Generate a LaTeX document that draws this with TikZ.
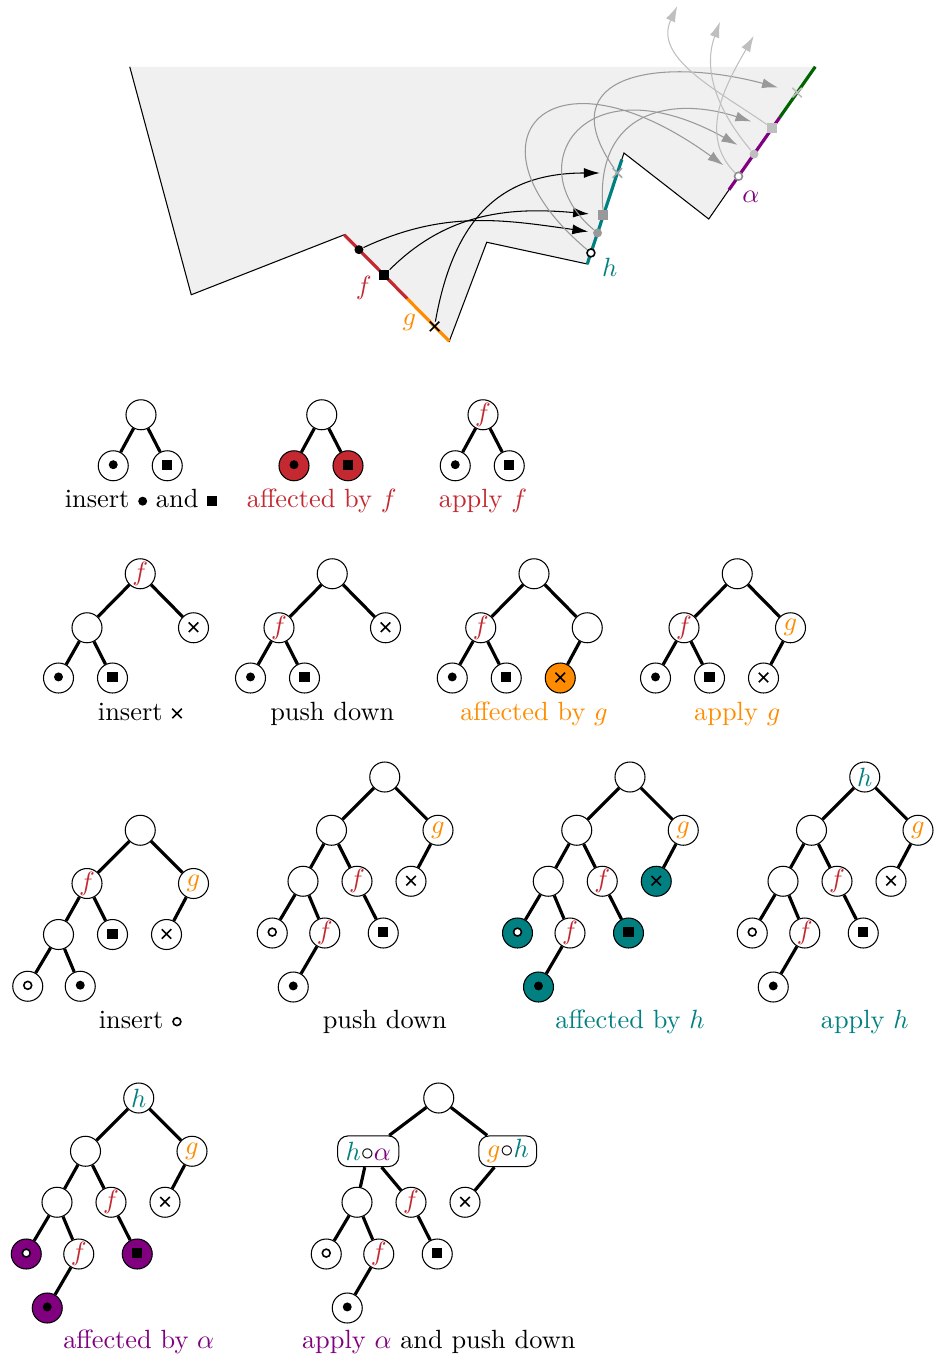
\documentclass[tikz,border=0pt]{standalone}
\usepackage{amssymb,amsmath}
\usepackage{xcolor}
\usepackage{tikz}
\usetikzlibrary{positioning}
\usetikzlibrary{arrows.meta,shapes.misc}
\usetikzlibrary{calc}

\definecolor{cf}{RGB}{196,40,48}
\definecolor{cg}{RGB}{255,140,0}
\definecolor{ch}{RGB}{0,128,128}
\definecolor{ca}{RGB}{128,0,128}
\definecolor{cz}{RGB}{0,100,0}

\tikzset{
  tn/.style={circle, draw=black, thin, fill=white, minimum size=0.4cm, inner sep=0pt},
  tbox/.style={rectangle, rounded corners=1.4mm, draw=black, thin, fill=white, minimum height=0.41cm, inner xsep=3pt, inner ysep=0pt},
  te/.style={very thick},
  mdot/.style={circle, fill=black, inner sep=0pt, minimum size=3.4pt},
  msq/.style={rectangle, fill=black, inner sep=0pt, minimum size=3.8pt},
  mring/.style={circle, draw=black, fill=white, line width=0.6pt, inner sep=0pt, minimum size=3pt},
  mcross/.style={cross out, draw=black, line width=0.6pt, inner sep=0pt, minimum size=3pt},
  arr/.style={-{Latex[length=6pt,width=3.8pt]}},
  seg/.style={line width=1.2pt},
}

\newcommand{\mkdot}{\tikz[baseline=-2.5pt]\node[mdot]{};}
\newcommand{\mksq}{\tikz[baseline=-2.5pt]\node[msq]{};}
\newcommand{\mkring}{\tikz[baseline=-2.5pt]\node[mring]{};}
\newcommand{\mkcross}{\tikz[baseline=-2.5pt]\node[mcross]{};}

\begin{document}
\begin{tikzpicture}
 \useasboundingbox (0,0) rectangle (12.467,-18.12);

 %region
 \coordinate (p1) at (1.73,-0.89);
 \coordinate (p2) at (2.55,-3.93);
 \coordinate (p3) at (4.59,-3.13);
 \coordinate (p4) at (5.99,-4.55);
 \coordinate (p5) at (6.49,-3.23);
 \coordinate (p6) at (7.83,-3.52);
 \coordinate (p7) at (8.32,-2.04);
 \coordinate (p8) at (9.45,-2.92);
 \coordinate (p9) at (9.72,-2.53);
 \coordinate (p10) at (10.87,-0.89);
 \fill[black!6] (p1) -- (p2) -- (p3) -- (p4) -- (p5) -- (p6) -- (p7) -- (p8) -- (p9) -- (p10) -- cycle;
 \draw[thin] (p1) -- (p2) -- (p3) -- (p4) -- (p5) -- (p6) -- (p7) -- (p8) -- (p9) -- (p10);

 %coloured pieces
 \coordinate (q1) at ($(p3)!0.6!(p4)$);
 \coordinate (q2) at ($(p6)!0.94!(p7)$);
 \coordinate (q3) at ($(p9)!0.59!(p10)$);
 \draw[seg, cf] (p3) -- (q1);
 \draw[seg, cg] (q1) -- (p4);
 \draw[seg, ch] (p6) -- (q2);
 \draw[seg, ca] (p9) -- (q3);
 \draw[seg, cz] (q3) -- (p10);

 %points
 \node[mdot] (c1) at ($(p3)!0.14!(p4)$) {};
 \node[msq] (s1) at ($(p3)!0.38!(p4)$) {};
 \node[mcross] (x1) at ($(p3)!0.86!(p4)$) {};
 \node[mring] (r2) at ($(p6)!0.1!(p7)$) {};
 \node[mdot, fill=black!40] (d2) at ($(p6)!0.28!(p7)$) {};
 \node[msq, fill=black!40] (s2) at ($(p6)!0.44!(p7)$) {};
 \node[mcross, draw=black!35] (x2) at ($(p6)!0.82!(p7)$) {};
 \node[mring, draw=black!45] (r3) at ($(p9)!0.11!(p10)$) {};
 \node[mdot, fill=black!25] (d3) at ($(p9)!0.29!(p10)$) {};
 \node[msq, fill=black!25] (s3) at ($(p9)!0.5!(p10)$) {};
 \node[mcross, draw=black!25] (x3) at ($(p9)!0.79!(p10)$) {};

 %names
 \node[cf] (nf) at (4.85,-3.84) {$f$};
 \node[cg] (ng) at (5.46,-4.3) {$g$};
 \node[ch] (nh) at (8.13,-3.56) {$h$};
 \node[ca] (na) at (10.01,-2.63) {$\alpha$};

 %arrows
 \draw[arr, shorten >=1.7pt] (c1) to[out=25, in=172] (d2);
 \draw[arr, shorten >=3.4pt] (s1) to[out=45, in=175] (s2);
 \draw[arr, shorten >=4.9pt] (x1) to[out=80, in=180, looseness=1.2] (x2);

 \draw[arr, black!40, shorten >=5.3pt] (r2) to[out=140, in=144, out distance=2.27cm, in distance=3.07cm] (r3);
 \draw[arr, black!40, shorten >=5.3pt] (d2) to[out=140, in=151, out distance=1.33cm, in distance=2.53cm] (d3);
 \draw[arr, black!40, shorten >=6.1pt] (s2) to[out=95, in=162, out distance=1.33cm, in distance=1.33cm] (s3);
 \draw[arr, black!40, shorten >=5.7pt] (x2) to[out=125, in=165, out distance=1.55cm, in distance=1.8cm] (x3);

 \coordinate (t1) at (9.03,-0.08);
 \coordinate (t2) at (9.6,-0.29);
 \coordinate (t3) at (10.05,-0.48);
 \draw[arr, black!25] (s3) to[out=145, in=-115] (t1);
 \draw[arr, black!25] (d3) to[out=130, in=-110] (t2);
 \draw[arr, black!25] (r3) to[out=135, in=-120] (t3);

 %row 1
 \begin{scope}[shift={(1.88,-5.53)}]
  \node[tn] (a1) at (0,0) {};
  \node[tn] (a21) at (-0.37,-0.68) {\mkdot};
  \node[tn] (a22) at (0.35,-0.68) {\mksq};
  \draw[te] (a1) -- (a21) (a1) -- (a22);
  \node[anchor=base] (a0) at (0,-1.24) {insert \mkdot\ and \mksq};
 \end{scope}

 \begin{scope}[shift={(4.29,-5.53)}]
  \node[tn] (b1) at (0,0) {};
  \node[tn, fill=cf] (b21) at (-0.37,-0.68) {\mkdot};
  \node[tn, fill=cf] (b22) at (0.35,-0.68) {\mksq};
  \draw[te] (b1) -- (b21) (b1) -- (b22);
  \node[anchor=base, cf] (b0) at (0,-1.24) {affected by $f$};
 \end{scope}

 \begin{scope}[shift={(6.44,-5.53)}]
  \node[tn, text=cf] (c1) at (0,0) {$f$};
  \node[tn] (c21) at (-0.37,-0.68) {\mkdot};
  \node[tn] (c22) at (0.35,-0.68) {\mksq};
  \draw[te] (c1) -- (c21) (c1) -- (c22);
  \node[anchor=base, cf] (c0) at (0,-1.24) {apply $f$};
 \end{scope}

 %row 2
 \begin{scope}[shift={(1.87,-7.65)}]
  \node[tn, text=cf] (d1) at (0,0) {$f$};
  \node[tn] (d21) at (-0.71,-0.72) {};
  \node[tn] (d22) at (0.71,-0.72) {\mkcross};
  \node[tn] (d31) at (-1.09,-1.39) {\mkdot};
  \node[tn] (d32) at (-0.37,-1.39) {\mksq};
  \draw[te] (d1) -- (d21) (d1) -- (d22) (d21) -- (d31) (d21) -- (d32);
  \node[anchor=base] (d0) at (0,-1.95) {insert \mkcross};
 \end{scope}

 \begin{scope}[shift={(4.43,-7.65)}]
  \node[tn] (e1) at (0,0) {};
  \node[tn, text=cf] (e21) at (-0.71,-0.72) {$f$};
  \node[tn] (e22) at (0.71,-0.72) {\mkcross};
  \node[tn] (e31) at (-1.09,-1.39) {\mkdot};
  \node[tn] (e32) at (-0.37,-1.39) {\mksq};
  \draw[te] (e1) -- (e21) (e1) -- (e22) (e21) -- (e31) (e21) -- (e32);
  \node[anchor=base] (e0) at (0,-1.95) {push down};
 \end{scope}

 \begin{scope}[shift={(7.12,-7.65)}]
  \node[tn] (f1) at (0,0) {};
  \node[tn, text=cf] (f21) at (-0.71,-0.72) {$f$};
  \node[tn] (f22) at (0.71,-0.72) {};
  \node[tn] (f31) at (-1.09,-1.39) {\mkdot};
  \node[tn] (f32) at (-0.37,-1.39) {\mksq};
  \node[tn, fill=cg] (f33) at (0.35,-1.39) {\mkcross};
  \draw[te] (f1) -- (f21) (f1) -- (f22) (f21) -- (f31) (f21) -- (f32) (f22) -- (f33);
  \node[anchor=base, cg] (f0) at (0,-1.95) {affected by $g$};
 \end{scope}

 \begin{scope}[shift={(9.83,-7.65)}]
  \node[tn] (g1) at (0,0) {};
  \node[tn, text=cf] (g21) at (-0.71,-0.72) {$f$};
  \node[tn, text=cg] (g22) at (0.71,-0.72) {$g$};
  \node[tn] (g31) at (-1.09,-1.39) {\mkdot};
  \node[tn] (g32) at (-0.37,-1.39) {\mksq};
  \node[tn] (g33) at (0.35,-1.39) {\mkcross};
  \draw[te] (g1) -- (g21) (g1) -- (g22) (g21) -- (g31) (g21) -- (g32) (g22) -- (g33);
  \node[anchor=base, cg] (g0) at (0,-1.95) {apply $g$};
 \end{scope}

 %row 3
 \begin{scope}[shift={(1.87,-11.07)}]
  \node[tn] (h1) at (0,0) {};
  \node[tn, text=cf] (h21) at (-0.71,-0.71) {$f$};
  \node[tn, text=cg] (h22) at (0.71,-0.71) {$g$};
  \node[tn] (h31) at (-1.09,-1.39) {};
  \node[tn] (h32) at (-0.37,-1.39) {\mksq};
  \node[tn] (h33) at (0.35,-1.39) {\mkcross};
  \node[tn] (h41) at (-1.5,-2.08) {\mkring};
  \node[tn] (h42) at (-0.8,-2.08) {\mkdot};
  \draw[te] (h1) -- (h21) (h1) -- (h22) (h21) -- (h31) (h21) -- (h32) (h22) -- (h33);
  \draw[te] (h31) -- (h41) (h31) -- (h42);
  \node[anchor=base] (h0) at (0,-2.64) {insert \mkring};
 \end{scope}

 \begin{scope}[shift={(5.13,-10.36)}]
  \node[tn] (i1) at (0,0) {};
  \node[tn] (i21) at (-0.71,-0.71) {};
  \node[tn, text=cg] (i22) at (0.71,-0.71) {$g$};
  \node[tn] (i31) at (-1.09,-1.39) {};
  \node[tn, text=cf] (i32) at (-0.37,-1.39) {$f$};
  \node[tn] (i33) at (0.35,-1.39) {\mkcross};
  \node[tn] (i41) at (-1.5,-2.08) {\mkring};
  \node[tn, text=cf] (i42) at (-0.8,-2.08) {$f$};
  \node[tn] (i43) at (-0.02,-2.08) {\mksq};
  \node[tn] (i51) at (-1.22,-2.8) {\mkdot};
  \draw[te] (i1) -- (i21) (i1) -- (i22) (i21) -- (i31) (i21) -- (i32) (i22) -- (i33);
  \draw[te] (i31) -- (i41) (i31) -- (i42) (i32) -- (i43) (i42) -- (i51);
  \node[anchor=base] (i0) at (0,-3.35) {push down};
 \end{scope}

 \begin{scope}[shift={(8.4,-10.36)}]
  \node[tn] (j1) at (0,0) {};
  \node[tn] (j21) at (-0.71,-0.71) {};
  \node[tn, text=cg] (j22) at (0.71,-0.71) {$g$};
  \node[tn] (j31) at (-1.09,-1.39) {};
  \node[tn, text=cf] (j32) at (-0.37,-1.39) {$f$};
  \node[tn, fill=ch] (j33) at (0.35,-1.39) {\mkcross};
  \node[tn, fill=ch] (j41) at (-1.5,-2.08) {\mkring};
  \node[tn, text=cf] (j42) at (-0.8,-2.08) {$f$};
  \node[tn, fill=ch] (j43) at (-0.02,-2.08) {\mksq};
  \node[tn, fill=ch] (j51) at (-1.22,-2.8) {\mkdot};
  \draw[te] (j1) -- (j21) (j1) -- (j22) (j21) -- (j31) (j21) -- (j32) (j22) -- (j33);
  \draw[te] (j31) -- (j41) (j31) -- (j42) (j32) -- (j43) (j42) -- (j51);
  \node[anchor=base, ch] (j0) at (0,-3.35) {affected by $h$};
 \end{scope}

 \begin{scope}[shift={(11.53,-10.36)}]
  \node[tn, text=ch] (k1) at (0,0) {$h$};
  \node[tn] (k21) at (-0.71,-0.71) {};
  \node[tn, text=cg] (k22) at (0.71,-0.71) {$g$};
  \node[tn] (k31) at (-1.09,-1.39) {};
  \node[tn, text=cf] (k32) at (-0.37,-1.39) {$f$};
  \node[tn] (k33) at (0.35,-1.39) {\mkcross};
  \node[tn] (k41) at (-1.5,-2.08) {\mkring};
  \node[tn, text=cf] (k42) at (-0.8,-2.08) {$f$};
  \node[tn] (k43) at (-0.02,-2.08) {\mksq};
  \node[tn] (k51) at (-1.22,-2.8) {\mkdot};
  \draw[te] (k1) -- (k21) (k1) -- (k22) (k21) -- (k31) (k21) -- (k32) (k22) -- (k33);
  \draw[te] (k31) -- (k41) (k31) -- (k42) (k32) -- (k43) (k42) -- (k51);
  \node[anchor=base, ch] (k0) at (0,-3.35) {apply $h$};
 \end{scope}

 %row 4
 \begin{scope}[shift={(1.85,-14.64)}]
  \node[tn, text=ch] (l1) at (0,0) {$h$};
  \node[tn] (l21) at (-0.71,-0.71) {};
  \node[tn, text=cg] (l22) at (0.71,-0.71) {$g$};
  \node[tn] (l31) at (-1.09,-1.39) {};
  \node[tn, text=cf] (l32) at (-0.37,-1.39) {$f$};
  \node[tn] (l33) at (0.35,-1.39) {\mkcross};
  \node[tn, fill=ca] (l41) at (-1.5,-2.08) {\mkring};
  \node[tn, text=cf] (l42) at (-0.8,-2.08) {$f$};
  \node[tn, fill=ca] (l43) at (-0.02,-2.08) {\mksq};
  \node[tn, fill=ca] (l51) at (-1.22,-2.8) {\mkdot};
  \draw[te] (l1) -- (l21) (l1) -- (l22) (l21) -- (l31) (l21) -- (l32) (l22) -- (l33);
  \draw[te] (l31) -- (l41) (l31) -- (l42) (l32) -- (l43) (l42) -- (l51);
  \node[anchor=base, ca] (l0) at (0,-3.34) {affected by $\alpha$};
 \end{scope}

 \begin{scope}[shift={(5.85,-14.64)}]
  \node[tn] (m1) at (0,0) {};
  \node[tbox] (m21) at (-0.94,-0.71) {$\textcolor{ch}{h}{\circ}\textcolor{ca}{\alpha}$};
  \node[tbox] (m22) at (0.92,-0.71) {$\textcolor{cg}{g}{\circ}\textcolor{ch}{h}$};
  \node[tn] (m31) at (-1.09,-1.39) {};
  \node[tn, text=cf] (m32) at (-0.37,-1.39) {$f$};
  \node[tn] (m33) at (0.35,-1.39) {\mkcross};
  \node[tn] (m41) at (-1.5,-2.08) {\mkring};
  \node[tn, text=cf] (m42) at (-0.8,-2.08) {$f$};
  \node[tn] (m43) at (-0.02,-2.08) {\mksq};
  \node[tn] (m51) at (-1.22,-2.8) {\mkdot};
  \draw[te] (m1) -- (m21) (m1) -- (m22) (m21) -- (m31) (m21) -- (m32) (m22) -- (m33);
  \draw[te] (m31) -- (m41) (m31) -- (m42) (m32) -- (m43) (m42) -- (m51);
  \node[anchor=base] (m0) at (0,-3.34) {{\color{ca}apply $\alpha$} and push down};
 \end{scope}

\end{tikzpicture}
\end{document}
